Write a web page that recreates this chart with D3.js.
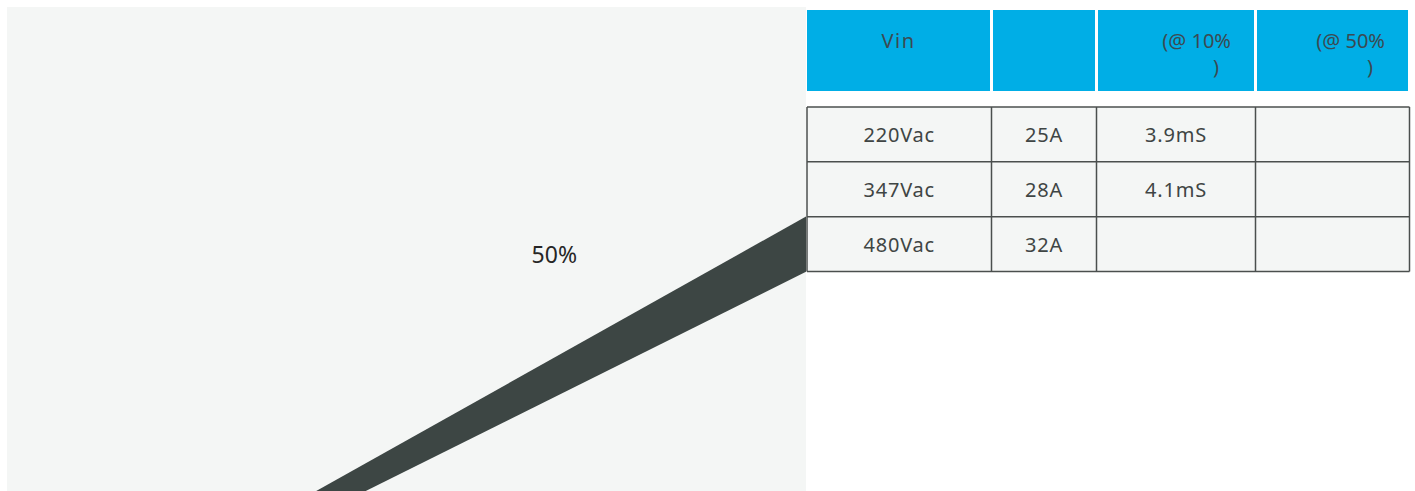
<!DOCTYPE html>
<html>
<head>
<meta charset="utf-8">
<script src="https://cdn.jsdelivr.net/npm/d3@7"></script>
<style>
  html, body { margin: 0; padding: 0; background: #fff; }
  svg { display: block; font-family: "Noto Sans", sans-serif; }
</style>
</head>
<body>
<svg id="chart" width="1415" height="491"></svg>
<script>
// table content
const headerLines = [["Vin"], [""], ["(@ 10%", ")"], ["(@ 50%", ")"]];
const rowLabels = ["220Vac", "347Vac", "480Vac"];
const currentValues = ["25A", "28A", "32A"];
const time10Values = ["3.9mS", "4.1mS", ""];
const time50Values = ["", "", ""];

// callout band, in panel percent units (x: left→right, y: bottom→top)
const bandUpper = [[38.7, 0], [100, 56.7]];
const bandLower = [[100, 45.3], [44.9, 0]];
const calloutLabel = "50%";
const calloutPos = [68.5, 49];

const svg = d3.select("#chart");
const panel = { x0: 7, x1: 806, y0: 7, y1: 491 };

// grey panel
svg.append("rect")
  .attr("x", panel.x0).attr("y", panel.y0)
  .attr("width", panel.x1 - panel.x0).attr("height", panel.y1 - panel.y0)
  .attr("fill", "#f4f6f5");

const x = d3.scaleLinear().domain([0, 100]).range([panel.x0, panel.x1]);
const y = d3.scaleLinear().domain([0, 100]).range([panel.y1, panel.y0]);

const line = d3.line().x((d) => x(d[0])).y((d) => y(d[1]));
svg.append("path")
  .attr("d", line([...bandUpper, ...bandLower]) + "Z")
  .attr("fill", "#3d4644");

svg.append("text")
  .attr("x", x(calloutPos[0]))
  .attr("y", y(calloutPos[1]))
  .attr("text-anchor", "middle")
  .attr("dominant-baseline", "central")
  .attr("font-size", 23)
  .attr("fill", "#262626")
  .text(calloutLabel);

// table
const colEdges = [807, 991.5, 1096.5, 1255.5, 1409.5];
const header = { y0: 10, y1: 91 };
const body = { y0: 107, y1: 271.5 };

const rows = rowLabels.map((r, i) => [r, currentValues[i], time10Values[i], time50Values[i]]);
const rowY = d3.scaleBand().domain(d3.range(rows.length)).range([body.y0, body.y1]);

const hg = svg.append("g");
headerLines.forEach((lines, j) => {
  const l = colEdges[j] + (j === 0 ? 0 : 1.5);
  const r = colEdges[j + 1] - 1.5;
  hg.append("rect")
    .attr("x", l).attr("y", header.y0)
    .attr("width", r - l).attr("height", header.y1 - header.y0)
    .attr("fill", "#00aee6");
  lines.forEach((t, k) => {
    const txt = hg.append("text")
      .attr("y", 48 + k * 26)
      .attr("font-size", 20)
      .attr("letter-spacing", j === 0 ? 1.5 : 0)
      .attr("fill", "#3b4a52")
      .text(t);
    if (j === 0) txt.attr("x", (l + r) / 2).attr("text-anchor", "middle");
    else txt.attr("x", r - (k === 0 ? 23 : 35)).attr("text-anchor", "end");
  });
});

const bg = svg.append("g");
bg.append("rect")
  .attr("x", colEdges[0]).attr("y", body.y0)
  .attr("width", colEdges[colEdges.length - 1] - colEdges[0])
  .attr("height", body.y1 - body.y0)
  .attr("fill", "#f4f6f5");

rows.forEach((row, i) => {
  row.forEach((v, j) => {
    bg.append("text")
      .attr("x", (colEdges[j] + colEdges[j + 1]) / 2)
      .attr("y", rowY(i) + rowY.bandwidth() / 2)
      .attr("text-anchor", "middle")
      .attr("dominant-baseline", "central")
      .attr("font-size", 20)
      .attr("letter-spacing", 0.8)
      .attr("fill", "#3f4544")
      .text(v);
  });
});

// grid lines
const gridStroke = "#4b4f4e";
d3.range(rows.length + 1).forEach((i) => {
  const yy = i === rows.length ? body.y1 : rowY(i);
  bg.append("line")
    .attr("x1", colEdges[0]).attr("x2", colEdges[colEdges.length - 1])
    .attr("y1", yy).attr("y2", yy)
    .attr("stroke", gridStroke).attr("stroke-width", 1.5);
});
colEdges.forEach((cx) => {
  bg.append("line")
    .attr("x1", cx).attr("x2", cx)
    .attr("y1", body.y0).attr("y2", body.y1)
    .attr("stroke", gridStroke).attr("stroke-width", 1.5);
});
</script>
</body>
</html>
